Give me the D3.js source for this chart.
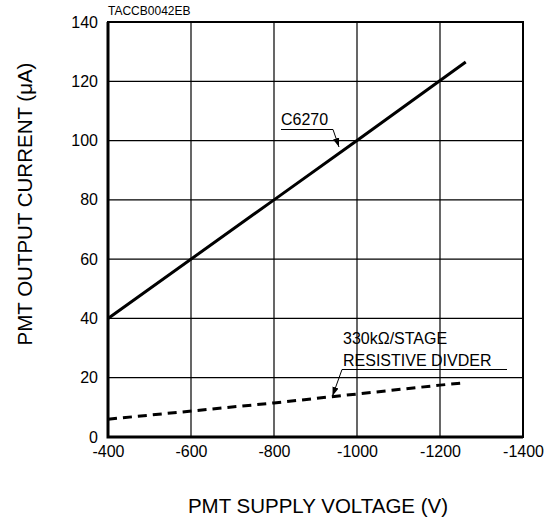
<!DOCTYPE html>
<html>
<head>
<meta charset="utf-8">
<script src="https://cdn.jsdelivr.net/npm/d3@7"></script>
<style>
  body { margin: 0; background: #fff; }
  svg { font-family: "Liberation Sans", Arial, sans-serif; }
</style>
</head>
<body>
<div id="chart"></div>
<script>
// data
const xTicks = [-400, -600, -800, -1000, -1200, -1400];
const yTicks = [0, 20, 40, 60, 80, 100, 120, 140];
const c6270 = [[-400, 40], [-800, 80], [-1000, 100], [-1262, 126.5]];
const divider = [[-400, 6], [-800, 11.5], [-1200, 17.5], [-1260, 18.3]];

const width = 550, height = 520;
const margin = {top: 22, right: 27, bottom: 83, left: 108};

const svg = d3.select('#chart').append('svg')
  .attr('width', width)
  .attr('height', height);

const x = d3.scaleLinear().domain([-400, -1400]).range([margin.left, width - margin.right]);
const y = d3.scaleLinear().domain([0, 140]).range([height - margin.bottom, margin.top]);

// grid
const grid = svg.append('g').attr('stroke', '#000').attr('stroke-width', 1.2);
grid.selectAll('.vx').data(xTicks.slice(1, -1)).enter().append('line')
  .attr('x1', d => x(d)).attr('x2', d => x(d))
  .attr('y1', y(0)).attr('y2', y(140));
grid.selectAll('.hy').data(yTicks.slice(1, -1)).enter().append('line')
  .attr('x1', x(-400)).attr('x2', x(-1400))
  .attr('y1', d => y(d)).attr('y2', d => y(d));

// frame
svg.append('rect')
  .attr('x', x(-400)).attr('y', y(140))
  .attr('width', x(-1400) - x(-400)).attr('height', y(0) - y(140))
  .attr('fill', 'none').attr('stroke', '#000').attr('stroke-width', 2);
svg.append('path')
  .attr('d', `M${x(-400)},${y(140)}V${y(0)}H${x(-1400)}`)
  .attr('fill', 'none').attr('stroke', '#000').attr('stroke-width', 3);

// axes (labels only)
const xAxis = svg.append('g')
  .attr('transform', `translate(0,${y(0)})`)
  .call(d3.axisBottom(x).tickValues(xTicks).tickSize(0).tickPadding(9).tickFormat(d => d));
const yAxis = svg.append('g')
  .attr('transform', `translate(${x(-400)},0)`)
  .call(d3.axisLeft(y).tickValues(yTicks).tickSize(0).tickPadding(10));
[xAxis, yAxis].forEach(a => {
  a.select('.domain').remove();
  a.selectAll('text').attr('font-size', 16).attr('fill', '#000')
    .attr('font-family', '"Liberation Sans", Arial, sans-serif');
});

// lines
const line = d3.line().x(d => x(d[0])).y(d => y(d[1]));
svg.append('path').datum(c6270)
  .attr('d', line).attr('fill', 'none')
  .attr('stroke', '#000').attr('stroke-width', 3);
svg.append('path').datum(divider)
  .attr('d', line).attr('fill', 'none')
  .attr('stroke', '#000').attr('stroke-width', 3)
  .attr('stroke-dasharray', '9,6');

// arrow marker
svg.append('defs').append('marker')
  .attr('id', 'arr').attr('viewBox', '0 0 10 10')
  .attr('refX', 10).attr('refY', 5)
  .attr('markerWidth', 9).attr('markerHeight', 9)
  .attr('markerUnits', 'userSpaceOnUse')
  .attr('orient', 'auto')
  .append('path').attr('d', 'M0,1.5L10,5L0,8.5Z').attr('fill', '#000');

// C6270 annotation
svg.append('text').attr('x', 281).attr('y', 125)
  .attr('font-size', 16).text('C6270');
svg.append('path')
  .attr('d', 'M281,129.5H333L339,147')
  .attr('fill', 'none').attr('stroke', '#000').attr('stroke-width', 1)
  .attr('marker-end', 'url(#arr)');

// divider annotation
svg.append('text').attr('x', 343).attr('y', 344)
  .attr('font-size', 16).text('330kΩ/STAGE');
svg.append('text').attr('x', 343).attr('y', 365.5)
  .attr('font-size', 16).text('RESISTIVE DIVDER');
svg.append('path')
  .attr('d', 'M507,369.5H342L332.5,396')
  .attr('fill', 'none').attr('stroke', '#000').attr('stroke-width', 1)
  .attr('marker-end', 'url(#arr)');

// code label
svg.append('text').attr('x', 108).attr('y', 15)
  .attr('font-size', 12).text('TACCB0042EB');

// axis titles
svg.append('text')
  .attr('x', 318).attr('y', 513)
  .attr('text-anchor', 'middle').attr('font-size', 20.5)
  .text('PMT SUPPLY VOLTAGE (V)');
svg.append('text')
  .attr('transform', 'translate(32,204) rotate(-90)')
  .attr('text-anchor', 'middle').attr('font-size', 20.5)
  .text('PMT OUTPUT CURRENT (μA)');
</script>
</body>
</html>
